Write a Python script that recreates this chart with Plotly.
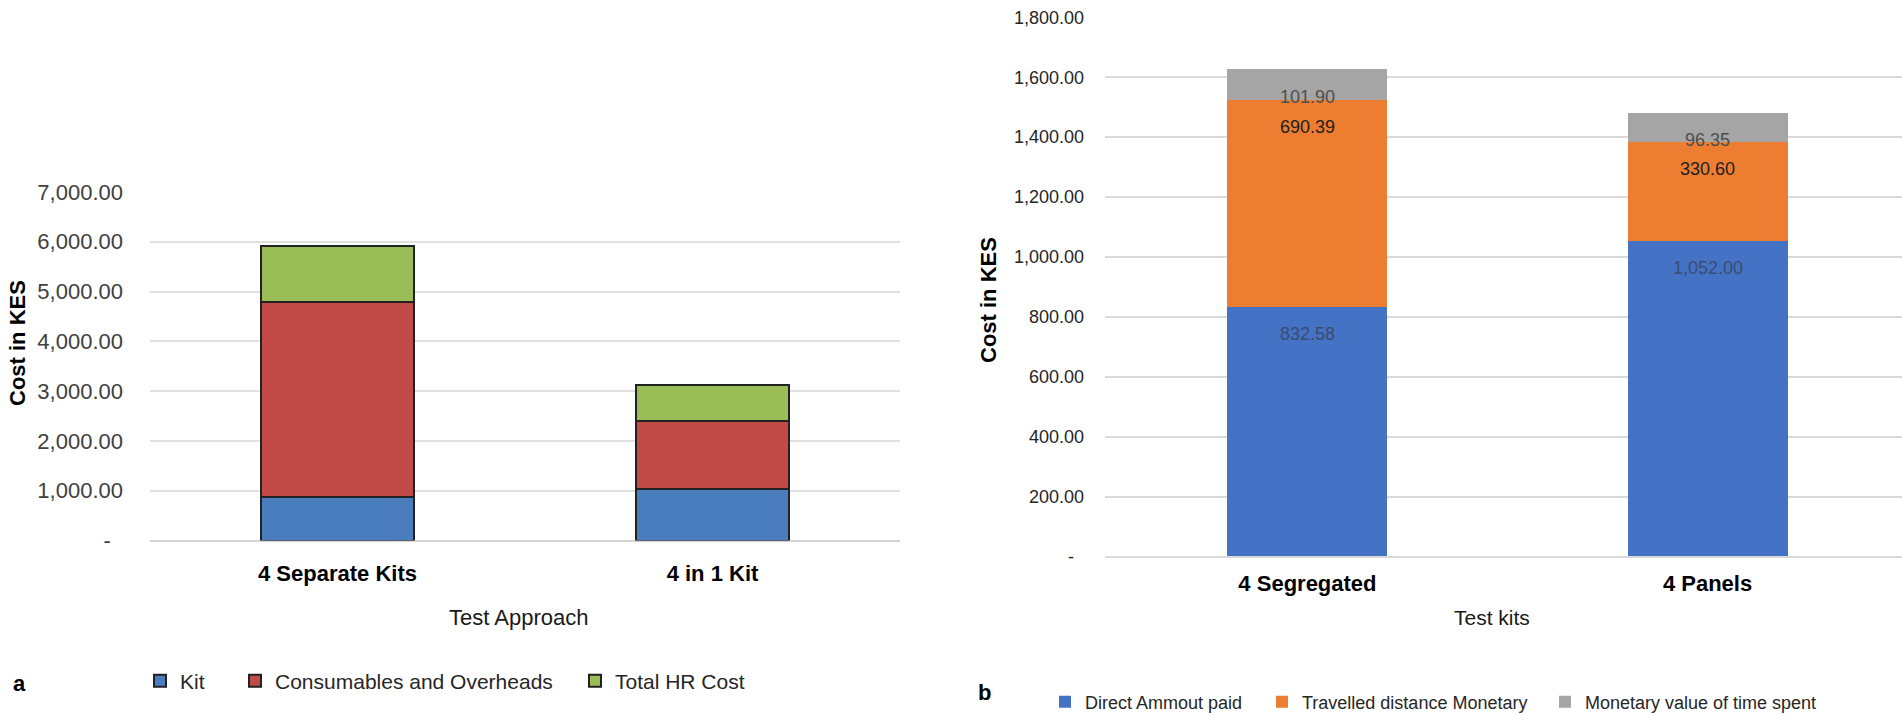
import plotly.graph_objects as go

W, H = 1902, 714

# ---------------- data: chart a ----------------
a_categories = ["4 Separate Kits", "4 in 1 Kit"]
a_kit = [869, 1043]
a_consumables = [3926, 1354]
a_hr = [1125, 732]
a_tickvals = [0, 1000, 2000, 3000, 4000, 5000, 6000, 7000]
a_ticktext = ["-\u00a0\u00a0", "1,000.00", "2,000.00", "3,000.00", "4,000.00",
              "5,000.00", "6,000.00", "7,000.00"]

# ---------------- data: chart b ----------------
b_categories = ["4 Segregated", "4 Panels"]
b_direct = [832.58, 1052.00]
b_travel = [690.39, 330.60]
b_time = [101.90, 96.35]
b_tickvals = [0, 200, 400, 600, 800, 1000, 1200, 1400, 1600, 1800]
b_ticktext = ["-\u00a0\u00a0", "200.00", "400.00", "600.00", "800.00", "1,000.00",
              "1,200.00", "1,400.00", "1,600.00", "1,800.00"]


def px(x):
    return x / W


def py(y):
    return 1 - y / H


FONT = "Liberation Sans, Arial, sans-serif"

fig = go.Figure()

# chart a bars (each legend entry gets its own positioned legend)
a_series = [("Kit", a_kit, "#4a7dbe", "legend", 140),
            ("Consumables and Overheads", a_consumables, "#c24a48", "legend2", 235),
            ("Total HR Cost", a_hr, "#9bbd57", "legend3", 575)]
for name, vals, col, leg, _ in a_series:
    fig.add_trace(go.Bar(
        x=a_categories, y=vals, name=name, xaxis="x", yaxis="y",
        marker=dict(color=col, line=dict(color="#222222", width=2)),
        width=0.41, legend=leg, hoverinfo="skip"))

# chart b bars
b_series = [("Direct Ammout paid", b_direct, "#4472c4", "#3c4c6e", "legend4", 1045),
            ("Travelled distance Monetary", b_travel, "#ed7d31", "#1e1e1e", "legend5", 1262),
            ("Monetary value of time spent", b_time, "#a5a5a5", "#4d4d4d", "legend6", 1545)]
for name, vals, col, _, leg, _x in b_series:
    fig.add_trace(go.Bar(
        x=b_categories, y=vals, name=name, xaxis="x2", yaxis="y2",
        marker=dict(color=col, line=dict(width=0)),
        width=0.4, legend=leg, hoverinfo="skip"))

annotations = []
# data labels for chart b
cum = [0.0] * len(b_categories)
for name, vals, col, tcol, _, _x in b_series:
    for i, cat in enumerate(b_categories):
        cum[i] += vals[i]
        annotations.append(dict(
            x=cat, y=cum[i], xref="x2", yref="y2", text=f"{vals[i]:,.2f}",
            showarrow=False, xanchor="center", yanchor="middle", yshift=-27,
            font=dict(family=FONT, size=18, color=tcol)))


def label(x, y, text, size, color="#000", angle=0):
    return dict(x=px(x), y=py(y), xref="paper", yref="paper", text=text,
                textangle=angle, showarrow=False, xanchor="center", yanchor="middle",
                font=dict(family=FONT, size=size, color=color))


annotations += [
    label(17, 343, "<b>Cost in KES</b>", 22, angle=-90),
    label(988, 300, "<b>Cost in KES</b>", 22, angle=-90),
    label(518, 617, "Test Approach", 22, "#1a1a1a"),
    label(1492, 617, "Test kits", 21, "#1a1a1a"),
    label(19, 683, "<b>a</b>", 22),
    label(984, 692, "<b>b</b>", 22),
]

legends = {}
for name, vals, col, leg, lx in a_series:
    legends[leg] = dict(orientation="h", x=px(lx), y=py(681), xanchor="left",
                        yanchor="middle", bgcolor="rgba(0,0,0,0)",
                        font=dict(family=FONT, size=21, color="#262626"))
for name, vals, col, tcol, leg, lx in b_series:
    legends[leg] = dict(orientation="h", x=px(lx), y=py(702), xanchor="left",
                        yanchor="middle", bgcolor="rgba(0,0,0,0)",
                        font=dict(family=FONT, size=18, color="#262626"))

fig.update_layout(
    width=W, height=H, autosize=False,
    margin=dict(l=0, r=0, t=0, b=0, autoexpand=False),
    paper_bgcolor="white", plot_bgcolor="white",
    barmode="stack", bargap=0.0,
    font=dict(family=FONT),
    xaxis=dict(domain=[px(150), px(900)], range=[-0.5, 1.5], type="category",
               anchor="y", showgrid=False, showline=False, zeroline=False, ticks="",
               tickfont=dict(family=FONT, size=22, color="#000", weight="bold"),
               ticklabelstandoff=17),
    yaxis=dict(domain=[py(540.5), py(192)], range=[0, 7000], anchor="x",
               tickmode="array", tickvals=a_tickvals, ticktext=a_ticktext,
               showgrid=True, gridcolor="#e0e0e0", gridwidth=2,
               zeroline=True, zerolinecolor="#d4d4d4", zerolinewidth=2,
               showline=False, ticks="", ticklabelstandoff=26,
               tickfont=dict(family=FONT, size=22, color="#404040")),
    xaxis2=dict(domain=[px(1105), 1.0], range=[-0.506, 1.486], type="category",
                anchor="y2", showgrid=False, showline=False, zeroline=False, ticks="",
                tickfont=dict(family=FONT, size=22, color="#000", weight="bold"),
                ticklabelstandoff=11),
    yaxis2=dict(domain=[py(556.5), py(17.3)], range=[0, 1800], anchor="x2",
                tickmode="array", tickvals=b_tickvals, ticktext=b_ticktext,
                showgrid=True, gridcolor="#d9d9d9", gridwidth=1.5,
                zeroline=True, zerolinecolor="#d9d9d9", zerolinewidth=1.5,
                showline=False, ticks="", ticklabelstandoff=20,
                tickfont=dict(family=FONT, size=18, color="#262626")),
    annotations=annotations,
    showlegend=True,
    **legends,
)

fig.write_html("out.html", config={"displayModeBar": False},
               post_script="document.body.style.margin='0';document.body.style.overflow='hidden';")
